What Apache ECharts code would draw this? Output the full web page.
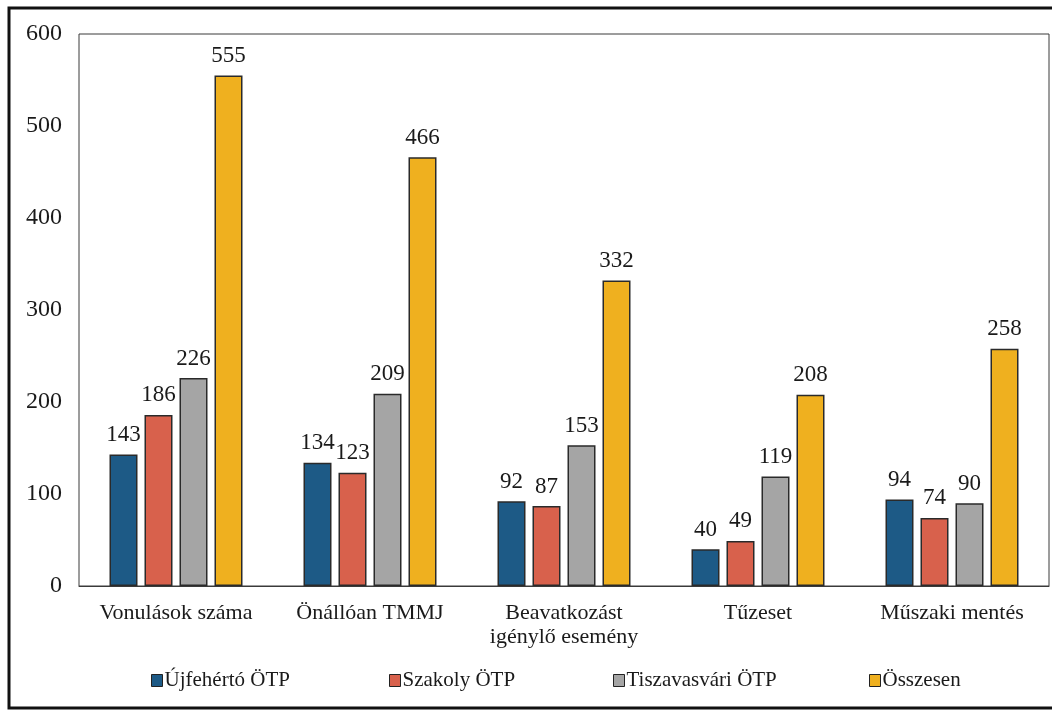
<!DOCTYPE html>
<html><head><meta charset="utf-8">
<script src="https://cdn.jsdelivr.net/npm/echarts@6/dist/echarts.min.js"></script>
<style>html,body{margin:0;padding:0;background:#fff}#c{width:1052px;height:712px}</style>
</head><body><div id="c"></div>
<script>
var categories = ['Vonulások száma', 'Önállóan TMMJ', 'Beavatkozást\nigénylő esemény', 'Tűzeset', 'Műszaki mentés'];
var seriesNames = ['Újfehértó ÖTP', 'Szakoly ÖTP', 'Tiszavasvári ÖTP', 'Összesen'];
var ujfeherto = [143, 134, 92, 40, 94];
var szakoly = [186, 123, 87, 49, 74];
var tiszavasvari = [226, 209, 153, 119, 90];
var osszesen = [555, 466, 332, 208, 258];
var yTicks = [0, 100, 200, 300, 400, 500, 600];

var colors = ['#1d5a86', '#d8614c', '#a5a5a5', '#efb01f'];
var values = [ujfeherto, szakoly, tiszavasvari, osszesen];
var font = '"Liberation Serif", "Times New Roman", serif';

var chart = echarts.init(document.getElementById('c'), null, {renderer: 'canvas'});
var legendLefts = [146, 384, 608, 864];
var option = {
  backgroundColor: '#fff',
  animation: false,
  textStyle: {fontFamily: font},
  grid: {left: 79, right: 3, top: 34, bottom: 126, show: true, borderColor: '#3a3a3a', borderWidth: 1, backgroundColor: 'transparent'},
  legend: seriesNames.map(function (n, i) {
    return {data: [n], left: legendLefts[i], top: 665, itemWidth: 11, itemHeight: 12, itemGap: 0,
      icon: 'rect', itemStyle: {borderColor: '#222', borderWidth: 1},
      textStyle: {fontFamily: font, fontSize: 21, color: '#1a1a1a', padding: [0, 0, 0, -3]}};
  }),
  xAxis: {
    type: 'category', data: categories,
    axisLine: {lineStyle: {color: '#3a3a3a', width: 1}},
    axisTick: {show: false},
    axisLabel: {fontFamily: font, fontSize: 22, color: '#1a1a1a', margin: 15, lineHeight: 24, interval: 0}
  },
  yAxis: {
    type: 'value', min: yTicks[0], max: yTicks[yTicks.length - 1], interval: 100,
    axisLine: {show: false}, axisTick: {show: false},
    splitLine: {show: false},
    axisLabel: {fontFamily: font, fontSize: 24, color: '#1a1a1a', margin: 17}
  },
  series: seriesNames.map(function (n, i) {
    return {
      name: n, type: 'bar', data: values[i],
      barWidth: 28, barGap: '25%',
      itemStyle: {color: colors[i], borderColor: '#2a2a2a', borderWidth: 1.5},
      label: {show: true, position: 'top', distance: 8, fontFamily: font, fontSize: 23, color: '#1a1a1a'}
    };
  }),
  graphic: [{
    type: 'rect', silent: true, z: 100,
    shape: {x: 9, y: 8, width: 1050, height: 700},
    style: {fill: 'none', stroke: '#111', lineWidth: 3}
  }]
};
chart.setOption(option);
</script>
</body></html>
